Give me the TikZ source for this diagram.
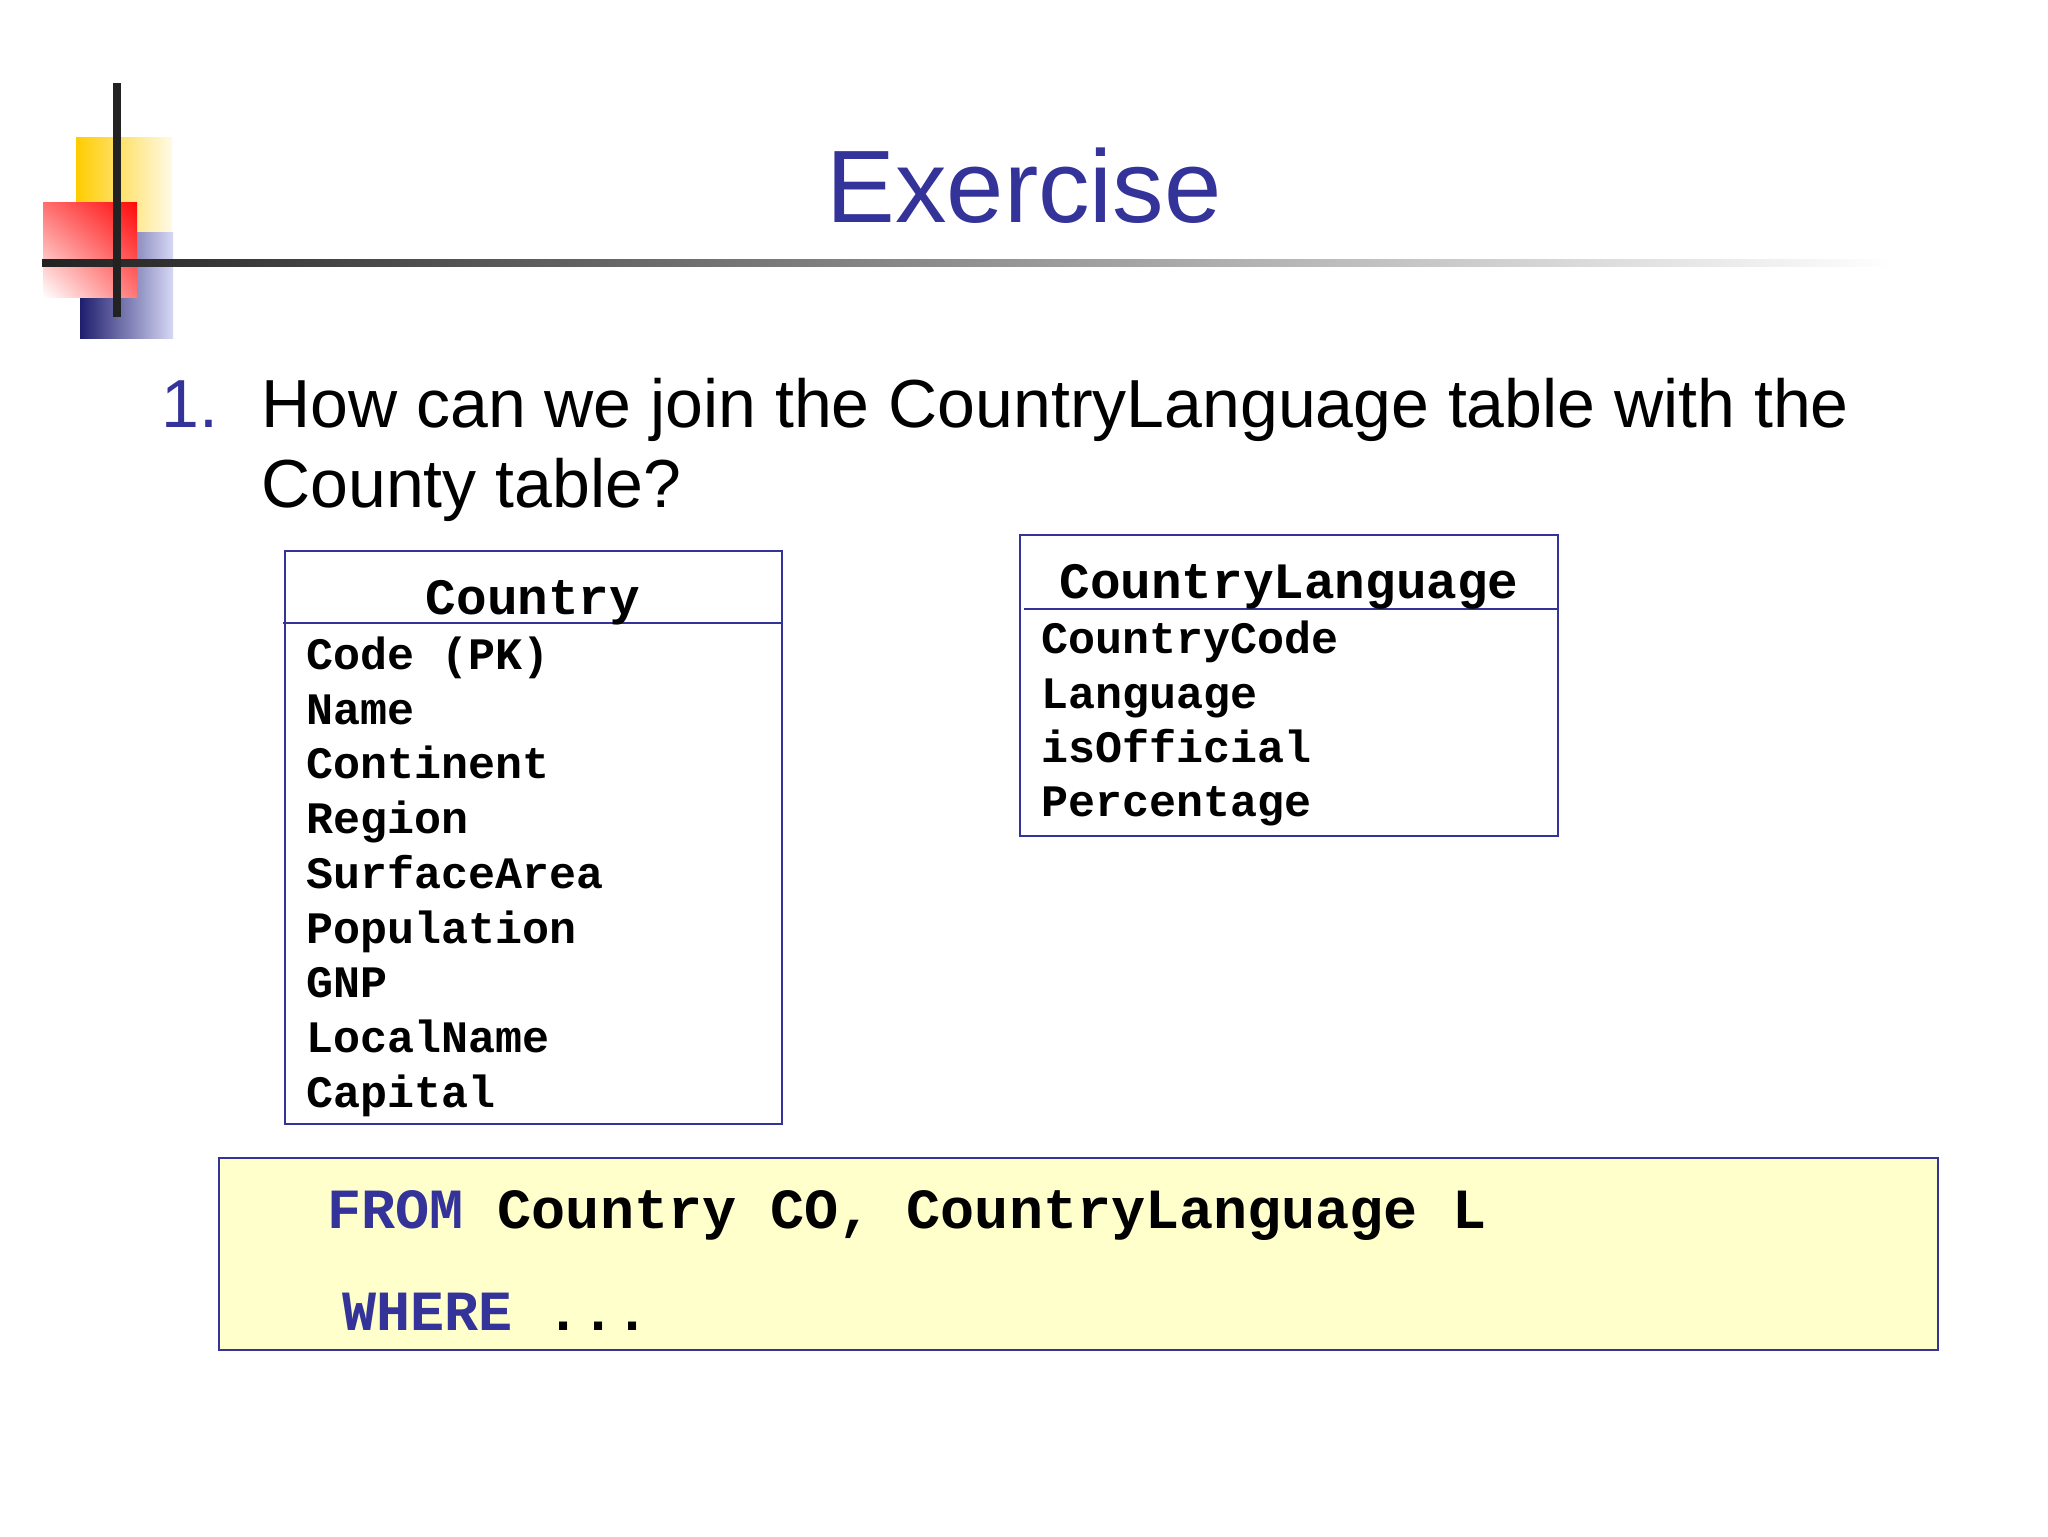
\documentclass[tikz,border=0pt]{standalone}
\usepackage{fontspec}
\usetikzlibrary{shadings}
\setmainfont{Liberation Sans}
\newfontfamily\courfont{Liberation Mono}
\definecolor{navy}{HTML}{333399}
\definecolor{sqlbg}{HTML}{FFFFCC}
\definecolor{barc}{HTML}{222222}
\definecolor{goldL}{RGB}{255,204,0}
\definecolor{goldR}{RGB}{255,250,230}
\definecolor{blueL}{RGB}{30,30,110}
\definecolor{blueR}{RGB}{215,215,245}
\definecolor{redUL}{RGB}{255,110,110}
\definecolor{redUR}{RGB}{255,10,10}
\definecolor{redLR}{RGB}{255,120,120}
\tikzset{
  txt/.style={anchor=base west, inner sep=0pt},
  qtext/.style={txt, font=\fontsize{34}{40}\selectfont},
  fld/.style={txt, font=\courfont\bfseries\fontsize{22.5}{27}\selectfont},
  hdr/.style={anchor=base, inner sep=0pt, font=\courfont\bfseries\fontsize{25.5}{30}\selectfont},
  sql/.style={txt, font=\courfont\bfseries\fontsize{28.4}{34}\selectfont},
  tbl/.style={draw=navy, line width=1.3pt},
}
\begin{document}
\begin{tikzpicture}[x=0.5pt,y=-0.5pt]
\useasboundingbox (0,0) rectangle (2048,1536);
\fill[white] (0,0) rectangle (2048,1536);
% logo
\shade[left color=goldL, right color=goldR] (76,137) rectangle (172,232);
\shade[left color=blueL, right color=blueR] (80,232) rectangle (173,338);
\shade[upper left=redUL, upper right=redUR, lower left=white, lower right=redLR] (43,202) rectangle (137,297);
\shade[left color=barc, right color=white] (42,259) rectangle (1894,266);
\fill[barc] (113,83) rectangle (121,317);
% title
\node (title) [anchor=base, inner sep=0pt, text=navy, font=\fontsize{51.5}{60}\selectfont] at (1024,222) {Exercise};
% question
\node (num) [qtext, text=navy] at (161,427) {1.};
\node (q1) [qtext] at (261,427) {How can we join the CountryLanguage table with the};
\node (q2) [qtext] at (261,507) {County table?};
% Country table
\draw[tbl] (285,551) rectangle (782,1124);
\draw[tbl] (283,623) -- (782,623);
\node (ctitle) [hdr] at (533,614) {Country};
\node (c1) [fld] at (306,669) {Code (PK)};
\node (c2) [fld] at (306,724) {Name};
\node (c3) [fld] at (306,778) {Continent};
\node (c4) [fld] at (306,833) {Region};
\node (c5) [fld] at (306,888) {SurfaceArea};
\node (c6) [fld] at (306,943) {Population};
\node (c7) [fld] at (306,997) {GNP};
\node (c8) [fld] at (306,1052) {LocalName};
\node (c9) [fld] at (306,1107) {Capital};
% CountryLanguage table
\draw[tbl] (1020,535) rectangle (1558,836);
\draw[tbl] (1024,609) -- (1558,609);
\node (ltitle) [hdr] at (1289,598) {CountryLanguage};
\node (l1) [fld] at (1041,653) {CountryCode};
\node (l2) [fld] at (1041,708) {Language};
\node (l3) [fld] at (1041,762) {isOfficial};
\node (l4) [fld] at (1041,816) {Percentage};
% SQL box
\draw[tbl, fill=sqlbg] (219,1158) rectangle (1938,1350);
\node (from) [sql] at (327,1228) {\textcolor{navy}{FROM} Country CO, CountryLanguage L};
\node (where) [sql] at (342,1330) {\textcolor{navy}{WHERE} ...};
\end{tikzpicture}
\end{document}
